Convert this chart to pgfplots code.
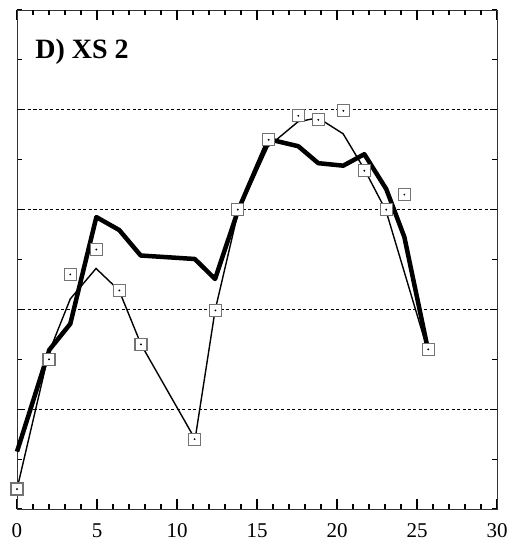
\documentclass[border=0pt]{standalone}
\usepackage{fontspec}
\setmainfont{Liberation Serif}
\usepackage{pgfplots}
\usepackage{pgfplotstable}
\pgfplotsset{compat=1.18}

% thick model curve
\pgfplotstableread{
x     y
0     1.15
2.02  3.19
3.33  3.71
4.96  5.85
6.39  5.59
7.73  5.08
11.11 5.01
12.38 4.61
13.81 5.98
15.73 7.41
17.58 7.27
18.83 6.93
20.39 6.88
21.71 7.11
23.08 6.41
24.21 5.45
25.63 3.28
}\thickdata
% thin model curve
\pgfplotstableread{
x     y
0     0.40
2.00  3.14
3.33  4.21
4.94  4.82
6.38  4.38
7.75  3.30
11.13 1.40
12.38 3.98
13.81 5.94
15.69 7.26
17.56 7.76
18.81 7.84
20.38 7.52
21.69 6.82
23.06 5.98
25.63 3.22
}\thindata
% measured points
\pgfplotstableread{
x     y
0     0.40
2.00  3.00
3.33  4.70
4.96  5.20
6.40  4.38
7.75  3.30
11.10 1.40
12.40 3.98
13.80 6.00
15.73 7.40
17.58 7.88
18.83 7.80
20.40 7.98
21.71 6.78
23.08 6.00
24.21 6.30
25.70 3.20
}\obsdata

\begin{document}
\begin{tikzpicture}
\begin{axis}[
  scale only axis,
  width=480pt, height=499pt,
  xmin=0, xmax=30, ymin=0, ymax=10,
  xtick={0,5,...,30},
  minor xtick={1,2,3,4,6,7,8,9,11,12,13,14,16,17,18,19,21,22,23,24,26,27,28,29},
  ytick={0,1,...,10},
  yticklabels={},
  xtick style={/pgfplots/major tick length=10pt, /pgfplots/minor tick length=5pt},
  ytick style={/pgfplots/major tick length=5pt},
  tick align=inside,
  xtick pos=both, ytick pos=both,
  every tick/.append style={black, line width=1.1pt},
  axis line style={black!80, line width=0.8pt},
  /pgf/number format/assume math mode=true,
  tick label style={font=\fontsize{21}{24}\selectfont},
  xticklabel shift=11pt,
  clip=false,
]
\coordinate (sw) at (rel axis cs:0,0);
\coordinate (ne) at (rel axis cs:1,1);
% dashed reference levels
\foreach \lev in {2,4,6,8} {
  \edef\tmp{\noexpand\draw[black, line width=0.6pt, dash pattern=on 3pt off 2.5pt]
    (axis cs:0,\lev) -- (axis cs:30,\lev);}
  \tmp
}
% x tick marks on the bottom and top frame: long every 5, short every 1
\foreach \k in {1,...,29} {
  \pgfmathtruncatemacro{\r}{mod(\k,5)}
  \ifnum\r=0 \def\len{10pt}\else\def\len{5pt}\fi
  \edef\tmp{\noexpand\draw[black, line width=1.1pt]
    (axis cs:\k,0) -- ++(0,\len)
    (axis cs:\k,10) -- ++(0,-\len);}
  \tmp
}
\addplot[black, line width=1.4pt] table[x=x,y=y] {\thindata};
\addplot[black, line width=4.5pt, line join=round] table[x=x,y=y] {\thickdata};
\addplot[only marks, mark=square*, mark size=6pt,
  mark options={fill=white, draw=black!55, line width=1.1pt}] table[x=x,y=y] {\obsdata};
\addplot[only marks, mark=*, mark size=0.7pt, black] table[x=x,y=y] {\obsdata};
\node[anchor=west, font=\bfseries\fontsize{28}{30}\selectfont]
  at (rel axis cs:0.031,0.916) {D) XS 2};
\end{axis}
\path (sw) ++(-17pt,-36pt) (ne) ++(11pt,10pt);
\end{tikzpicture}
\end{document}
